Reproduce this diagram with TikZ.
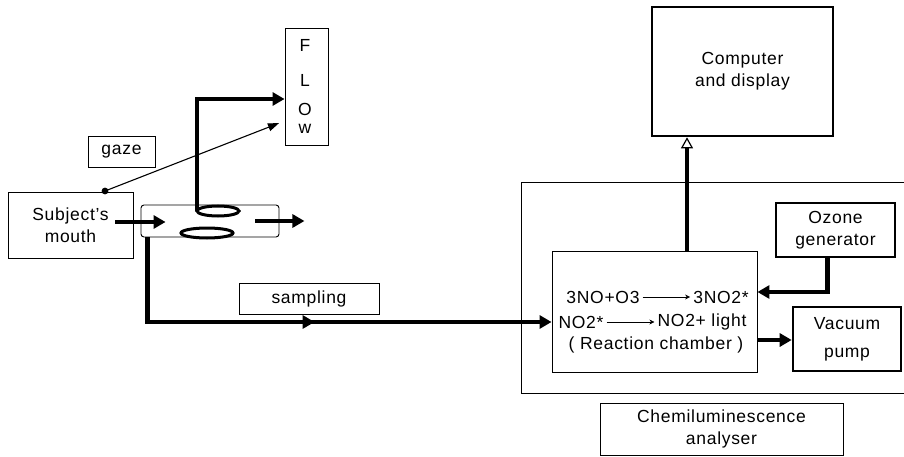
\documentclass[tikz,border=0pt]{standalone}
\usepackage{fontspec}
\setmainfont[LetterSpace=4]{Liberation Sans}
\usetikzlibrary{arrows.meta,decorations.markings,calc,shapes.geometric}
\begin{document}
\begin{tikzpicture}[x=1pt,y=-1pt,
  font=\fontsize{17.5}{22}\selectfont,
  thinbox/.style={draw, line width=0.9pt, inner sep=0pt, align=center},
  thickbox/.style={draw, line width=2.6pt, inner sep=0pt, align=center},
  pipe/.style={line width=4.2pt, -{Triangle[length=12pt,width=13pt]}},
  tube/.style={ellipse, draw, line width=3pt, fill=white, inner sep=0pt},
  txt/.style={inner sep=1pt},
  rxarrow/.style={line width=0.6pt, -{Stealth[length=5pt,width=5pt]}, shorten >=2pt, shorten <=2pt}
]
\useasboundingbox (0,0) rectangle (904,457);

% boxes
\node[thinbox, minimum width=43pt, minimum height=117pt] (flow) at (306.5,86.5) {};
\node[txt] (fF) at (305,45) {F};
\node[txt] (fL) at (305,80) {L};
\node[txt] (fO) at (305,109) {O};
\node[txt] (fW) at (305,129) {w};
\node[thinbox, minimum width=67pt, minimum height=31pt] (gaze) at (121.5,151.5) {gaze};
\node[thinbox, minimum width=125pt, minimum height=66pt] (mouth) at (70.5,225) {Subject's\\mouth};
\node[thinbox, rounded corners=3pt, minimum width=138pt, minimum height=32pt] (tubebox) at (210,221) {};
\node[thinbox, minimum width=140pt, minimum height=31pt] (sampling) at (309,298.5) {sampling};
\draw[line width=0.9pt] (904,182) -- (521,182) -- (521,393) -- (904,393);
\node[thinbox, minimum width=205pt, minimum height=121pt] (rc) at (654.5,311.5) {};
\node[thickbox, minimum width=119pt, minimum height=54pt] (ozone) at (835.5,230) {Ozone\\generator};
\node[thickbox, minimum width=108pt, minimum height=64pt] (vacuum) at (847,339) {Vacuum\\[6pt]pump};
\node[thinbox, minimum width=243pt, minimum height=52pt] (chem) at (721.5,429) {Chemiluminescence\\analyser};
\node[thickbox, minimum width=181pt, minimum height=129pt] (comp) at (742.5,71.5) {Computer\\and display};

% reaction chamber text
\node[txt] (t1a) at (603,297) {3NO+O3};
\node[txt] (t1b) at (721,297) {3NO2*};
\node[txt] (t2a) at (581,322) {NO2*};
\node[txt] (t2b) at (702,322) {NO2+ light};
\node[txt] (t3) at (656,345) {( Reaction chamber )};
\draw[rxarrow] (t1a) -- (t1b);
\draw[rxarrow] (t2a) -- (t2b);

% helper coordinates
\coordinate (e1c) at (218,211);
\coordinate (e2c) at (207,233);
\coordinate (fy) at (0,99);
\coordinate (sy) at (0,322);
\coordinate (oy) at (0,292);
\coordinate (vy) at (0,340);
\coordinate (cx) at (687,0);

\draw[pipe] ($(e1c)+(-21,0)$) |- (flow.west |- fy);
\node[tube, minimum width=42pt, minimum height=10pt] (e1) at (e1c) {};
\node[tube, minimum width=52pt, minimum height=10pt] (e2) at (e2c) {};

% gaze
\coordinate (gd) at (105,191);
\fill (gd) circle (3.4pt);
\draw[line width=1.1pt, -{Triangle[length=11pt,width=8pt]}, shorten >=6pt] (gd) -- ($(flow.west)+(0,34.5)$);

% mouth to tube, tube out
\draw[pipe] ($(mouth.east)+(-18,-3)$) -- ($(tubebox.west)+(25,1)$);
\draw[pipe] ($(tubebox.east)+(-24,0)$) -- ($(tubebox.east)+(25,0)$);

% sampling line
\draw[pipe, postaction={decorate}, decoration={markings, mark=at position 0.515 with {\arrow{Triangle[length=12pt,width=13pt]}}}]
  ($(tubebox.south west)+(7,0)$) |- (rc.west |- sy);

% ozone to chamber
\draw[pipe] ($(ozone.south)+(-8,0)$) |- (rc.east |- oy);
% chamber to vacuum
\draw[pipe] (rc.east |- vy) -- (vacuum.west |- vy);
% chamber to computer
\draw[line width=4.2pt, -{Triangle[length=11pt,width=12pt,fill=white,line width=1.2pt]}] (rc.north -| cx) -- (comp.south -| cx);
\end{tikzpicture}
\end{document}
